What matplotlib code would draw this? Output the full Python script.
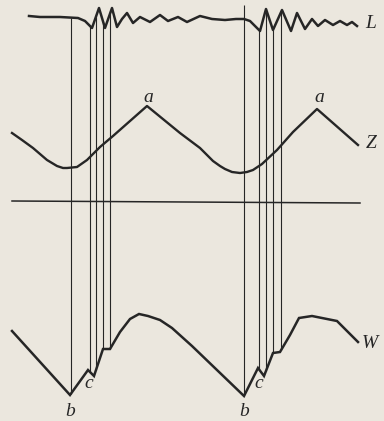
import numpy as np
import matplotlib
matplotlib.use("Agg")
import matplotlib.pyplot as plt

# curve L (top trace)
l_x = [29, 40, 60, 78, 85, 92, 99, 105, 112, 117, 122, 127, 133, 140, 150, 160, 168, 178,
       187, 200, 212, 225, 236, 244, 250, 255, 260, 266, 273, 282, 291, 297, 305, 312, 318,
       325, 333, 340, 347, 352, 357]
l_y = [16, 17, 17, 18, 21, 28, 8, 28, 8, 27, 19, 13, 23, 17, 22, 15, 21, 17,
       22, 16, 19, 20, 19, 19, 21, 26, 31, 9, 30, 10, 31, 13, 29, 19, 26,
       20, 25, 21, 25, 22, 26]

# curve Z
z_x = [12, 22, 33, 47, 57, 63, 67, 77, 87, 95, 100, 113, 147, 180, 200, 207, 213, 220, 225,
       232, 240, 247, 253, 262, 277, 293, 317, 358]
z_y = [133, 140, 148, 160, 166, 168, 168, 167, 160, 152, 147, 136, 106, 133, 148, 155, 161, 166, 169,
       172, 173, 172, 170, 164, 150, 132, 109, 145]

# curve W (bottom trace)
w_x = [12, 70, 88, 94, 103, 110, 120, 130, 139, 148, 160, 172, 192, 244,
       258, 264, 273, 280, 290, 299, 312, 337, 358]
w_y = [331, 395, 370, 376, 349, 349, 332, 319, 314, 316, 320, 328, 346, 396,
       368, 376, 353, 352, 335, 318, 316, 321, 342]

# vertical marker lines
marks_1 = [71, 90, 96, 103, 110]
marks_2 = [244, 259, 266, 273, 281]

# baseline
base_x = [12, 360]
base_y = [201, 203]

# letters
labels = ["L", "Z", "W", "a", "a", "b", "b", "c", "c"]
lab_x = [371, 371, 370, 148, 319, 70, 244, 89, 259]
lab_y = [24, 144, 343, 97, 98, 411, 411, 384, 384]

bg = "#ebe7de"
ink = "#262626"

fig = plt.figure(figsize=(3.84, 4.21), dpi=100, facecolor=bg)
ax = fig.add_axes([0, 0, 1, 1])
ax.set_facecolor(bg)
ax.set_xlim(0, 384)
ax.set_ylim(421, 0)
ax.axis("off")

for mx in marks_1 + marks_2:
    top = np.interp(mx, l_x, l_y)
    if mx == marks_2[0]:
        top = 5
    bot = np.interp(mx, w_x, w_y)
    ax.plot([mx, mx], [top, bot], color=ink, lw=0.8, solid_capstyle="butt")

ax.plot(base_x, base_y, color=ink, lw=1.1)
ax.plot(l_x, l_y, color=ink, lw=1.8, solid_joinstyle="round")
ax.plot(z_x, z_y, color=ink, lw=1.7, solid_joinstyle="round")
ax.plot(w_x, w_y, color=ink, lw=1.8, solid_joinstyle="miter")

for t, x, y in zip(labels, lab_x, lab_y):
    ax.text(x, y, t, fontsize=14, family="Liberation Serif", style="italic",
            color=ink, ha="center", va="center")

fig.savefig("out.png", dpi=100, facecolor=bg)
